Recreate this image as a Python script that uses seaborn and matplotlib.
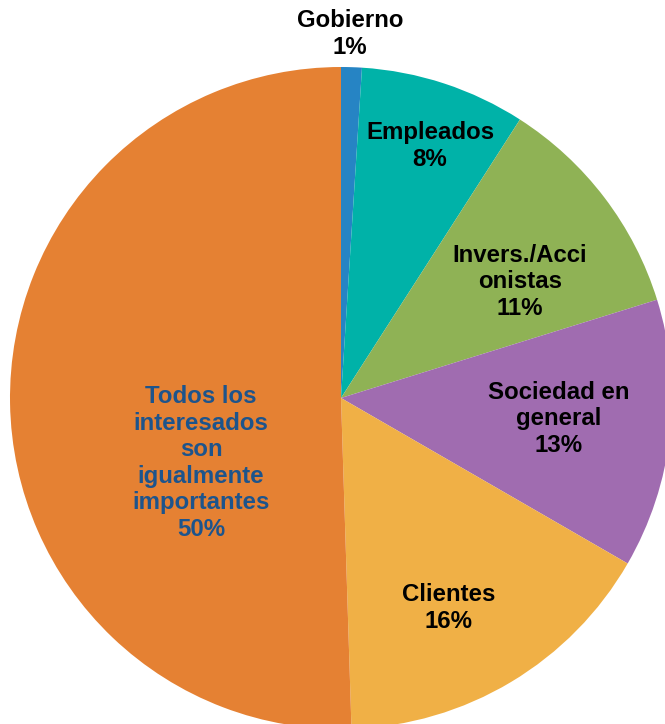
import matplotlib
matplotlib.use("Agg")
import matplotlib.pyplot as plt
import seaborn as sns

# Stakeholder shares (percent), clockwise from 12 o'clock
categories = ["Gobierno", "Empleados", "Invers./Acci\nonistas", "Sociedad en\ngeneral",
              "Clientes", "Todos los\ninteresados\nson\nigualmente\nimportantes"]
values = [1, 8, 11, 13, 16, 50]

palette = sns.color_palette(["#2684c4", "#00b2a8", "#8fb255", "#a06cb0", "#f0b046", "#e58133"])

sns.set_theme(style="white")
plt.rcParams["font.family"] = ["Liberation Sans", "DejaVu Sans"]

W, H = 665, 724
fig = plt.figure(figsize=(W / 100, H / 100), dpi=100)
ax = fig.add_axes([0, 0, 1, 1])

cx, cy, r = 341, H - 398, 331
wedges, _ = ax.pie(values, colors=palette, startangle=90, counterclock=False,
                   center=(cx, cy), radius=r, wedgeprops=dict(linewidth=0))

# label anchor points (pixel coords from top-left)
label_xy = [(350, 34), (430, 146), (520, 282), (559, 419), (449, 608), (201, 463)]
label_colors = ["black", "black", "black", "black", "black", "#1d548c"]

for name, v, (lx, ly), col in zip(categories, values, label_xy, label_colors):
    ax.text(lx, H - ly, f"{name}\n{v}%", ha="center", va="center",
            fontsize=17.3, fontweight="bold", color=col, linespacing=1.2)

ax.set_xlim(0, W)
ax.set_ylim(0, H)
ax.set_aspect("auto")
ax.axis("off")

fig.savefig("out.png", dpi=100)
